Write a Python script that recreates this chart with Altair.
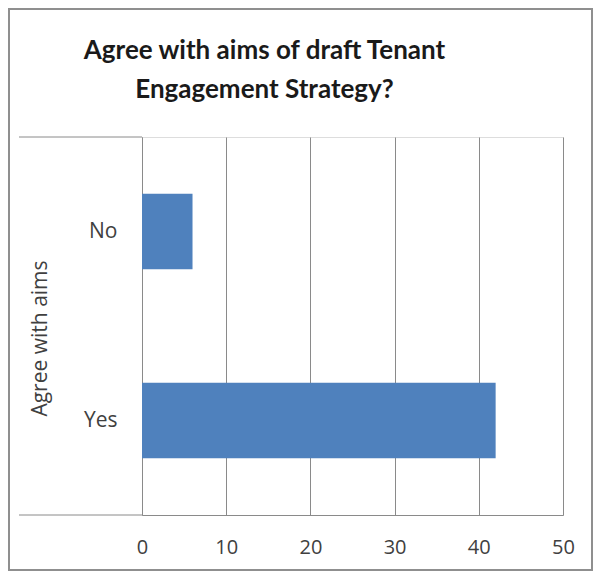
import altair as alt
import pandas as pd

categories = ["No", "Yes"]
counts = [6, 42]
x_ticks = [0, 10, 20, 30, 40, 50]
title_lines = ["Agree with aims of draft Tenant", "Engagement Strategy?"]
y_title = "Agree with aims"

df = pd.DataFrame({"answer": categories, "count": counts})

W, H = 421, 378
FONT = "Open Sans"

bars = alt.Chart(df).mark_bar(color="#4F81BD").encode(
    x=alt.X("count:Q",
            scale=alt.Scale(domain=[0, 50], nice=False),
            axis=alt.Axis(values=x_ticks, title=None, grid=True, gridColor="#8a8a8a",
                          gridWidth=1, ticks=False, domainColor="#8a8a8a", domainWidth=1,
                          labelFont=FONT, labelFontSize=20, labelColor="#404040",
                          labelPadding=22, labelFlush=False)),
    y=alt.Y("answer:N", sort=categories,
            scale=alt.Scale(paddingInner=0.6, paddingOuter=0.3),
            axis=alt.Axis(title=y_title, ticks=False, domainColor="#8a8a8a", domainWidth=1,
                          labelFont=FONT, labelFontSize=21, labelColor="#404040",
                          labelPadding=25,
                          titleFont=FONT, titleFontSize=21, titleFontWeight="normal",
                          titleColor="#404040", titleX=-102, titleY=201,
                          titleAngle=270, titleAlign="center", titleBaseline="middle")),
)

edge_rules = alt.Chart(pd.DataFrame({"pos": [0, 1]})).mark_rule(
    color="#8a8a8a", strokeWidth=1
).encode(
    x=alt.value(-123), x2=alt.value(0),
    y=alt.Y("pos:Q", scale=alt.Scale(domain=[0, 1], range=[0, H]), axis=None),
)

frame = alt.Chart(pd.DataFrame({"a": [0]})).mark_rect(
    fill=None, stroke="#8f8f8f", strokeWidth=2
).encode(
    x=alt.value(-133), x2=alt.value(W + 29),
    y=alt.value(-128), y2=alt.value(H + 55),
)

chart = alt.layer(bars, edge_rules, frame).resolve_scale(y="independent").properties(
    width=W, height=H,
    title=alt.TitleParams(title_lines, font="Lato", fontSize=26, fontWeight="bold",
                          color="#1a1a1a", lineHeight=39, anchor="middle", dx=-88,
                          offset=-95),
    autosize=alt.AutoSizeParams(type="none"),
    padding={"left": 134, "top": 129, "right": 30, "bottom": 56},
).configure_view(fill="#f2f2f2", stroke=None).configure(background="white")

chart.save("out.html", embed_options={"renderer": "svg", "actions": False})
